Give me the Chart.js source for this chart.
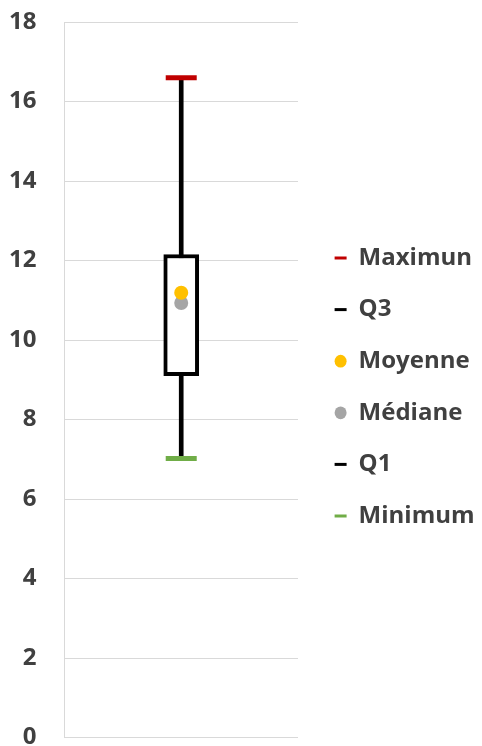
<!DOCTYPE html>
<html>
<head>
<meta charset="utf-8">
<script src="https://cdn.jsdelivr.net/npm/chart.js@4"></script>
<style>
  html, body { margin: 0; background: #fff; overflow: hidden; }
  #wrap { width: 482px; height: 758px; }
</style>
</head>
<body>
<div id="wrap"><canvas id="boxChart"></canvas></div>
<script>
// Données du graphique
const categories = [""];
const maximum = [16.6];
const q3 = [12.15];
const moyenne = [11.19];
const mediane = [10.93];
const q1 = [9.1];
const minimum = [7.02];
const yTicks = { min: 0, max: 18, step: 2 };

const textColor = "#404040";
const gridColor = "#d9d9d9";
const fontFamily = "'Open Sans', 'Liberation Sans', sans-serif";

// Marqueurs (séries visibles dans la légende)
function marker(label, data, color, style, radius, width) {
    return {
        type: "line",
        label: label,
        data: data,
        showLine: false,
        pointStyle: style,
        pointRadius: radius,
        pointHoverRadius: radius,
        pointBorderWidth: width,
        borderColor: color,
        backgroundColor: color,
        borderWidth: width,
        order: 0
    };
}

function drawChart() {
    const ctx = document.getElementById("boxChart").getContext("2d");
    new Chart(ctx, {
        type: "bar",
        data: {
            labels: categories,
            datasets: [
                marker("Maximun", maximum, "#c00000", "line", 15.5, 5),
                marker("Q3", q3, "#000000", "line", 0.01, 0),
                marker("Moyenne", moyenne, "#ffc000", "circle", 7, 0),
                marker("Médiane", mediane, "#a5a5a5", "circle", 7, 0),
                marker("Q1", q1, "#000000", "line", 0.01, 0),
                marker("Minimum", minimum, "#70ad47", "line", 15.5, 5),
                // boîte Q1-Q3
                {
                    label: "box",
                    data: q1.map((v, i) => [v, q3[i]]),
                    backgroundColor: "#ffffff",
                    borderColor: "#000000",
                    borderWidth: 4,
                    borderSkipped: false,
                    barThickness: 35,
                    grouped: false,
                    order: 1
                },
                // moustache min-max
                {
                    label: "whisker",
                    data: minimum.map((v, i) => [v, maximum[i]]),
                    backgroundColor: "#000000",
                    borderWidth: 0,
                    barThickness: 4,
                    grouped: false,
                    order: 2
                }
            ]
        },
        options: {
            responsive: true,
            maintainAspectRatio: false,
            animation: false,
            layout: { padding: { top: 4, right: 0, left: 9, bottom: -12 } },
            plugins: {
                tooltip: { enabled: false },
                legend: {
                    position: "right",
                    maxWidth: 175,
                    labels: {
                        color: textColor,
                        font: { family: fontFamily, size: 24, weight: "bold" },
                        usePointStyle: true,
                        boxHeight: 9,
                        pointStyleWidth: 12,
                        padding: 27.6,
                        filter: (item) => item.text !== "box" && item.text !== "whisker",
                        generateLabels: function(chart) {
                            const items = Chart.defaults.plugins.legend.labels.generateLabels(chart);
                            items.forEach(item => {
                                const ds = chart.data.datasets[item.datasetIndex];
                                if (ds.pointStyle === "line") {
                                    item.lineWidth = 3;
                                    item.strokeStyle = ds.borderColor;
                                } else {
                                    item.lineWidth = 0;
                                }
                            });
                            return items;
                        }
                    }
                }
            },
            scales: {
                x: {
                    display: false
                },
                y: {
                    min: yTicks.min,
                    max: yTicks.max,
                    ticks: {
                        stepSize: yTicks.step,
                        color: textColor,
                        padding: 0,
                        font: { family: fontFamily, size: 24, weight: "bold" }
                    },
                    grid: { color: gridColor, drawTicks: true, tickLength: 28, tickColor: "rgba(0,0,0,0)" },
                    border: { color: gridColor, width: 1 },
                    // marges haut/bas de la zone de tracé
                    afterFit: (scale) => { scale.paddingTop = 22; scale.paddingBottom = 9; }
                },
                // petit espace entre le graphique et la légende
                gap: {
                    position: "right",
                    display: true,
                    ticks: { display: false },
                    grid: { display: false },
                    border: { display: false },
                    afterFit: (scale) => { scale.width = 9; scale.paddingTop = 0; scale.paddingBottom = 0; }
                }
            }
        }
    });
}

// attendre les polices avant de mesurer les textes
document.fonts.load("bold 24px 'Open Sans'").then(drawChart, drawChart);
</script>
</body>
</html>
